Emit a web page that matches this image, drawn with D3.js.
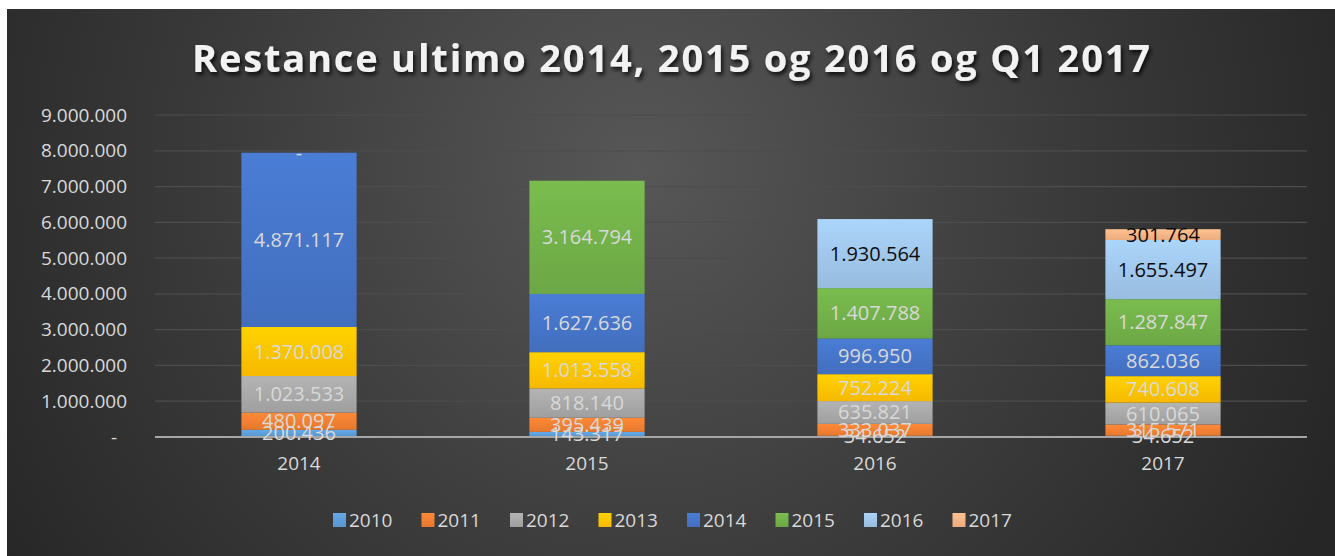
<!DOCTYPE html>
<html>
<head>
<meta charset="utf-8">
<script src="https://cdn.jsdelivr.net/npm/d3@7"></script>
<style>
  html, body { margin: 0; padding: 0; background: #ffffff; }
  svg { display: block; }
</style>
</head>
<body>
<div id="chart"></div>
<script>
// data
var categories = ["2014", "2015", "2016", "2017"];
var seriesNames = ["2010", "2011", "2012", "2013", "2014", "2015", "2016", "2017"];
var s2010 = [200436, 143317, 34652, 34652];
var s2011 = [480097, 395439, 333037, 315571];
var s2012 = [1023533, 818140, 635821, 610065];
var s2013 = [1370008, 1013558, 752224, 740608];
var s2014 = [4871117, 1627636, 996950, 862036];
var s2015 = [0, 3164794, 1407788, 1287847];
var s2016 = [null, null, 1930564, 1655497];
var s2017 = [null, null, null, 301764];
var yTicks = [0, 1000000, 2000000, 3000000, 4000000, 5000000, 6000000, 7000000, 8000000, 9000000];
var chartTitle = "Restance ultimo 2014, 2015 og 2016 og Q1 2017";

var seriesValues = [s2010, s2011, s2012, s2013, s2014, s2015, s2016, s2017];
var colors = ["#5B9BD5", "#ED7D31", "#A5A5A5", "#FFC000", "#4472C4", "#70AD47", "#9DC3E6", "#F4B183"];
var labelColors = ["#d9d9d9", "#d9d9d9", "#d9d9d9", "#d9d9d9", "#d9d9d9", "#d9d9d9", "#0d0d0d", "#0d0d0d"];

var W = 1335, H = 556;
var plot = {left: 155, right: 1307, top: 115, bottom: 437};

var locale = d3.formatLocale({decimal: ",", thousands: ".", grouping: [3], currency: ["", " kr."]});
var fmt = locale.format(",d");
function label(v) { return v === 0 ? "-" : fmt(v); }

// build rows for d3.stack
var rows = categories.map(function(c, i) {
  var r = {cat: c};
  seriesNames.forEach(function(s, j) { r[s] = seriesValues[j][i]; });
  return r;
});

var stack = d3.stack()
  .keys(seriesNames)
  .value(function(d, key) { return d[key] == null ? 0 : d[key]; });
var stacked = stack(rows);

var x = d3.scaleBand()
  .domain(categories)
  .range([plot.left, plot.right])
  .paddingInner(0.6)
  .paddingOuter(0.3);

var y = d3.scaleLinear()
  .domain([0, 9000000])
  .range([plot.bottom, plot.top]);

var svg = d3.select("#chart").append("svg")
  .attr("width", W)
  .attr("height", H);

var defs = svg.append("defs");

var bg = defs.append("radialGradient")
  .attr("id", "bg")
  .attr("gradientUnits", "userSpaceOnUse")
  .attr("cx", 640).attr("cy", 170).attr("r", 760);
bg.append("stop").attr("offset", "0%").attr("stop-color", "#575757");
bg.append("stop").attr("offset", "55%").attr("stop-color", "#3b3b3b");
bg.append("stop").attr("offset", "100%").attr("stop-color", "#262626");

colors.forEach(function(c, i) {
  var g = defs.append("linearGradient")
    .attr("id", "grad" + i)
    .attr("x1", 0).attr("y1", 0).attr("x2", 0).attr("y2", 1);
  g.append("stop").attr("offset", "0%").attr("stop-color", d3.color(c).brighter(0.25));
  g.append("stop").attr("offset", "100%").attr("stop-color", d3.color(c).darker(0.1));
});

var shadow = defs.append("filter").attr("id", "shadow")
  .attr("x", "-20%").attr("y", "-20%").attr("width", "140%").attr("height", "140%");
shadow.append("feDropShadow")
  .attr("dx", 3).attr("dy", 1).attr("stdDeviation", 3)
  .attr("flood-color", "#000").attr("flood-opacity", 0.45);

var titleShadow = defs.append("filter").attr("id", "tshadow")
  .attr("x", "-5%").attr("y", "-30%").attr("width", "110%").attr("height", "160%");
titleShadow.append("feDropShadow")
  .attr("dx", 2).attr("dy", 3).attr("stdDeviation", 2)
  .attr("flood-color", "#000").attr("flood-opacity", 0.8);

// background
svg.append("rect")
  .attr("x", 7).attr("y", 9)
  .attr("width", W - 7).attr("height", H - 9)
  .attr("fill", "url(#bg)");

// title
svg.append("text")
  .attr("x", 671)
  .attr("y", 72)
  .attr("text-anchor", "middle")
  .attr("font-family", "Open Sans, sans-serif")
  .attr("font-weight", "bold")
  .attr("font-size", 38)
  .attr("fill", "#f2f2f2")
  .attr("textLength", 958)
  .attr("lengthAdjust", "spacing")
  .attr("filter", "url(#tshadow)")
  .text(chartTitle);

// gridlines
svg.append("g").selectAll("line")
  .data(yTicks.filter(function(t) { return t > 0; }))
  .enter().append("line")
    .attr("x1", plot.left).attr("x2", plot.right)
    .attr("y1", function(d) { return y(d); })
    .attr("y2", function(d) { return y(d); })
    .attr("stroke", "#4d4d4d")
    .attr("stroke-width", 1.2);

// y axis labels
var yAxis = d3.axisLeft(y)
  .tickValues(yTicks)
  .tickSize(0)
  .tickPadding(28)
  .tickFormat(function(d) { return d === 0 ? "-" : fmt(d); });

var yg = svg.append("g")
  .attr("transform", "translate(" + plot.left + ",0)")
  .call(yAxis);
yg.select(".domain").remove();
yg.selectAll("text")
  .attr("font-family", "Open Sans, sans-serif")
  .attr("font-size", 19)
  .attr("fill", "#d9d9d9")
  .attr("dx", function(d) { return d === 0 ? -10 : 0; });

// bars
var layers = svg.append("g").selectAll("g")
  .data(stacked)
  .enter().append("g")
    .attr("fill", function(d, i) { return "url(#grad" + i + ")"; });

layers.selectAll("rect")
  .data(function(d) { return d.filter(function(p) { return p.data[d.key] != null; }); })
  .enter().append("rect")
    .attr("x", function(d) { return x(d.data.cat); })
    .attr("width", x.bandwidth())
    .attr("y", function(d) { return y(d[1]); })
    .attr("height", function(d) { return y(d[0]) - y(d[1]); });

// x axis baseline
svg.append("line")
  .attr("x1", plot.left).attr("x2", plot.right)
  .attr("y1", y(0)).attr("y2", y(0))
  .attr("stroke", "#a6a6a6")
  .attr("stroke-width", 2);

// data labels
stacked.forEach(function(layer, i) {
  svg.append("g").selectAll("text")
    .data(layer.filter(function(p) { return p.data[layer.key] != null; }))
    .enter().append("text")
      .attr("x", function(d) { return x(d.data.cat) + x.bandwidth() / 2; })
      .attr("y", function(d) { return (y(d[0]) + y(d[1])) / 2; })
      .attr("dy", "0.35em")
      .attr("text-anchor", "middle")
      .attr("font-family", "Open Sans, sans-serif")
      .attr("font-size", 20)
      .attr("fill", labelColors[i])
      .text(function(d) { return label(d.data[layer.key]); });
});

// x axis labels
var xAxis = d3.axisBottom(x).tickSize(0).tickPadding(20);
var xg = svg.append("g")
  .attr("transform", "translate(0," + plot.bottom + ")")
  .call(xAxis);
xg.select(".domain").remove();
xg.selectAll("text")
  .attr("font-family", "Open Sans, sans-serif")
  .attr("font-size", 19)
  .attr("fill", "#d9d9d9");

// legend
var legend = svg.append("g")
  .attr("transform", "translate(333,520)");
var item = legend.selectAll("g")
  .data(seriesNames)
  .enter().append("g")
    .attr("transform", function(d, i) { return "translate(" + (i * 88.5) + ",0)"; });
item.append("rect")
  .attr("x", 0).attr("y", -7)
  .attr("width", 13).attr("height", 14)
  .attr("fill", function(d, i) { return "url(#grad" + i + ")"; });
item.append("text")
  .attr("x", 16)
  .attr("dy", "0.35em")
  .attr("font-family", "Open Sans, sans-serif")
  .attr("font-size", 19)
  .attr("fill", "#d9d9d9")
  .text(function(d) { return d; });
</script>
</body>
</html>
